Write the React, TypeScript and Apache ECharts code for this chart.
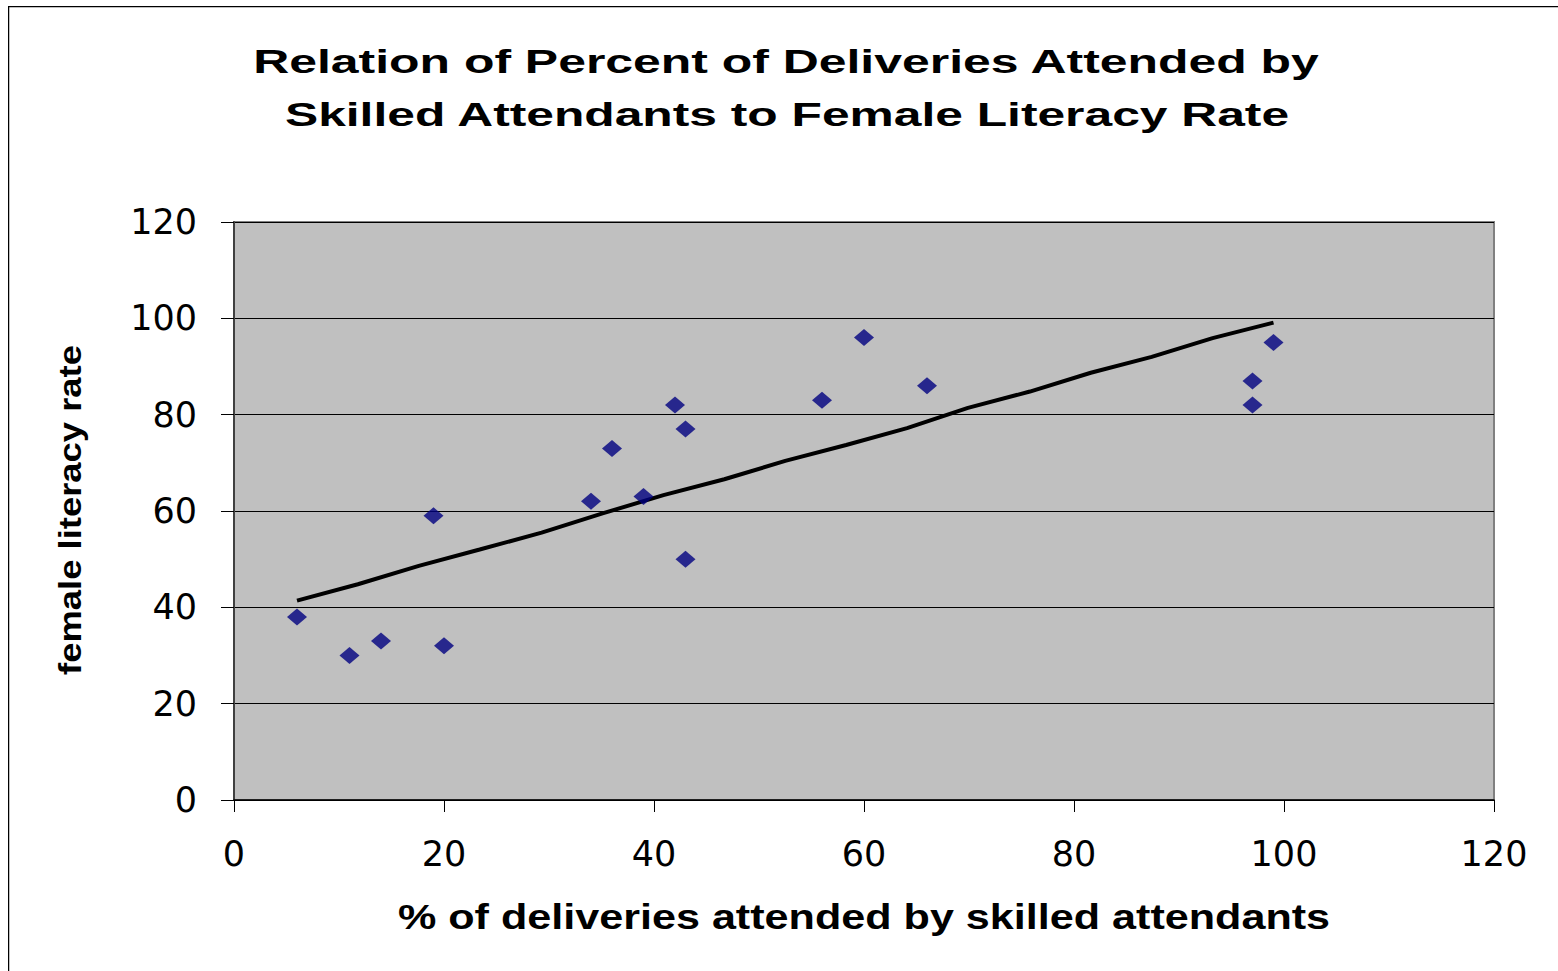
import React, { useEffect, useRef } from "react";
import * as echarts from "echarts";

const titleLines = [
  "Relation of Percent of Deliveries Attended by",
  "Skilled Attendants to Female Literacy Rate",
];
const xAxisTitle = "% of deliveries attended by skilled attendants";
const yAxisTitle = "female literacy rate";

const deliveriesPct = [6, 11, 14, 19, 20, 34, 36, 39, 42, 43, 43, 56, 60, 66, 97, 97, 99];
const literacyRate = [38, 30, 33, 59, 32, 62, 73, 63, 82, 77, 50, 83, 96, 86, 87, 82, 95];

const trendX = [6, 11.8, 17.6, 23.4, 29.3, 35.1, 40.9, 46.7, 52.5, 58.3, 64.1, 69.9, 75.8, 81.6, 87.4, 93.2, 99];
const trendY = [41.4, 44.8, 48.6, 52.0, 55.5, 59.5, 63.3, 66.6, 70.4, 73.7, 77.2, 81.4, 84.8, 88.7, 92.0, 95.9, 99.1];

const xTicks = [0, 20, 40, 60, 80, 100, 120];
const yTicks = [0, 20, 40, 60, 80, 100, 120];

function measure(text: string, font: string): number {
  const c = document.createElement("canvas").getContext("2d");
  if (!c) return text.length * 10;
  c.font = font;
  return c.measureText(text).width;
}

export default function App() {
  const ref = useRef<HTMLDivElement>(null);
  useEffect(() => {
    if (!ref.current) return;
    const chart = echarts.init(ref.current, null, { renderer: "svg" });

    const titleFont = "bold 34px 'Liberation Sans'";
    const t1Scale = 1068 / measure(titleLines[0], titleFont);
    const t2Scale = 1006 / measure(titleLines[1], titleFont);
    const xtFont = "bold 36px 'Liberation Sans'";
    const xtScale = 932 / measure(xAxisTitle, xtFont);
    const ytFont = "bold 31px 'Liberation Sans'";
    const ytScale = 330 / measure(yAxisTitle, ytFont);

    const scatterData = deliveriesPct.map((x, i) => [x, literacyRate[i]]);
    const trendData = trendX.map((x, i) => [x, trendY[i]]);

    chart.setOption({
      animation: false,
      backgroundColor: "#ffffff",
      grid: {
        left: 226,
        top: 216,
        width: 1260,
        height: 578,
        show: true,
        backgroundColor: "#C0C0C0",
        borderColor: "#808080",
        borderWidth: 2,
      },
      xAxis: {
        type: "value",
        min: xTicks[0],
        max: xTicks[xTicks.length - 1],
        interval: 20,
        axisLine: { show: true, onZero: false, lineStyle: { color: "#000", width: 1.5 } },
        axisTick: { show: true, inside: false, length: 12, lineStyle: { color: "#000", width: 1 } },
        axisLabel: {
          margin: 36,
          fontFamily: "DejaVu Sans",
          fontSize: 35,
          color: "#000",
          lineHeight: 35,
        },
        splitLine: { show: false },
      },
      yAxis: {
        type: "value",
        min: yTicks[0],
        max: yTicks[yTicks.length - 1],
        interval: 20,
        axisLine: { show: true, onZero: false, lineStyle: { color: "#404040", width: 2 } },
        axisTick: { show: true, inside: false, length: 13, lineStyle: { color: "#000", width: 1 } },
        axisLabel: {
          margin: 37,
          fontFamily: "DejaVu Sans",
          fontSize: 35,
          color: "#000",
        },
        splitLine: { show: true, lineStyle: { color: "#000", width: 1 } },
      },
      series: [
        {
          type: "line",
          data: trendData,
          showSymbol: false,
          symbol: "none",
          smooth: false,
          lineStyle: { color: "#000", width: 4 },
          z: 3,
        },
        {
          type: "scatter",
          data: scatterData,
          symbol: "diamond",
          symbolSize: [20, 17],
          itemStyle: { color: "#000080" },
          z: 4,
        },
      ],
      graphic: [
        {
          type: "line",
          shape: { x1: 0, y1: 0.5, x2: 1550, y2: 0.5 },
          style: { stroke: "#000", lineWidth: 1.5 },
        },
        {
          type: "line",
          shape: { x1: 0.5, y1: 0, x2: 0.5, y2: 965 },
          style: { stroke: "#000", lineWidth: 1.5 },
        },
        {
          type: "text",
          x: 778,
          y: 55,
          scaleX: t1Scale,
          style: {
            text: titleLines[0],
            font: titleFont,
            fill: "#000",
            align: "center",
            verticalAlign: "middle",
          },
        },
        {
          type: "text",
          x: 779,
          y: 108,
          scaleX: t2Scale,
          style: {
            text: titleLines[1],
            font: titleFont,
            fill: "#000",
            align: "center",
            verticalAlign: "middle",
          },
        },
        {
          type: "text",
          x: 856,
          y: 910,
          scaleX: xtScale,
          style: {
            text: xAxisTitle,
            font: xtFont,
            fill: "#000",
            align: "center",
            verticalAlign: "middle",
          },
        },
        {
          type: "text",
          x: 62,
          y: 504,
          rotation: Math.PI / 2,
          scaleX: ytScale,
          style: {
            text: yAxisTitle,
            font: ytFont,
            fill: "#000",
            align: "center",
            verticalAlign: "middle",
          },
        },
      ],
    });
    return () => chart.dispose();
  }, []);

  return (
    <div
      ref={ref}
      style={{ position: "absolute", left: 8, top: 6, width: 1550, height: 965 }}
    />
  );
}
